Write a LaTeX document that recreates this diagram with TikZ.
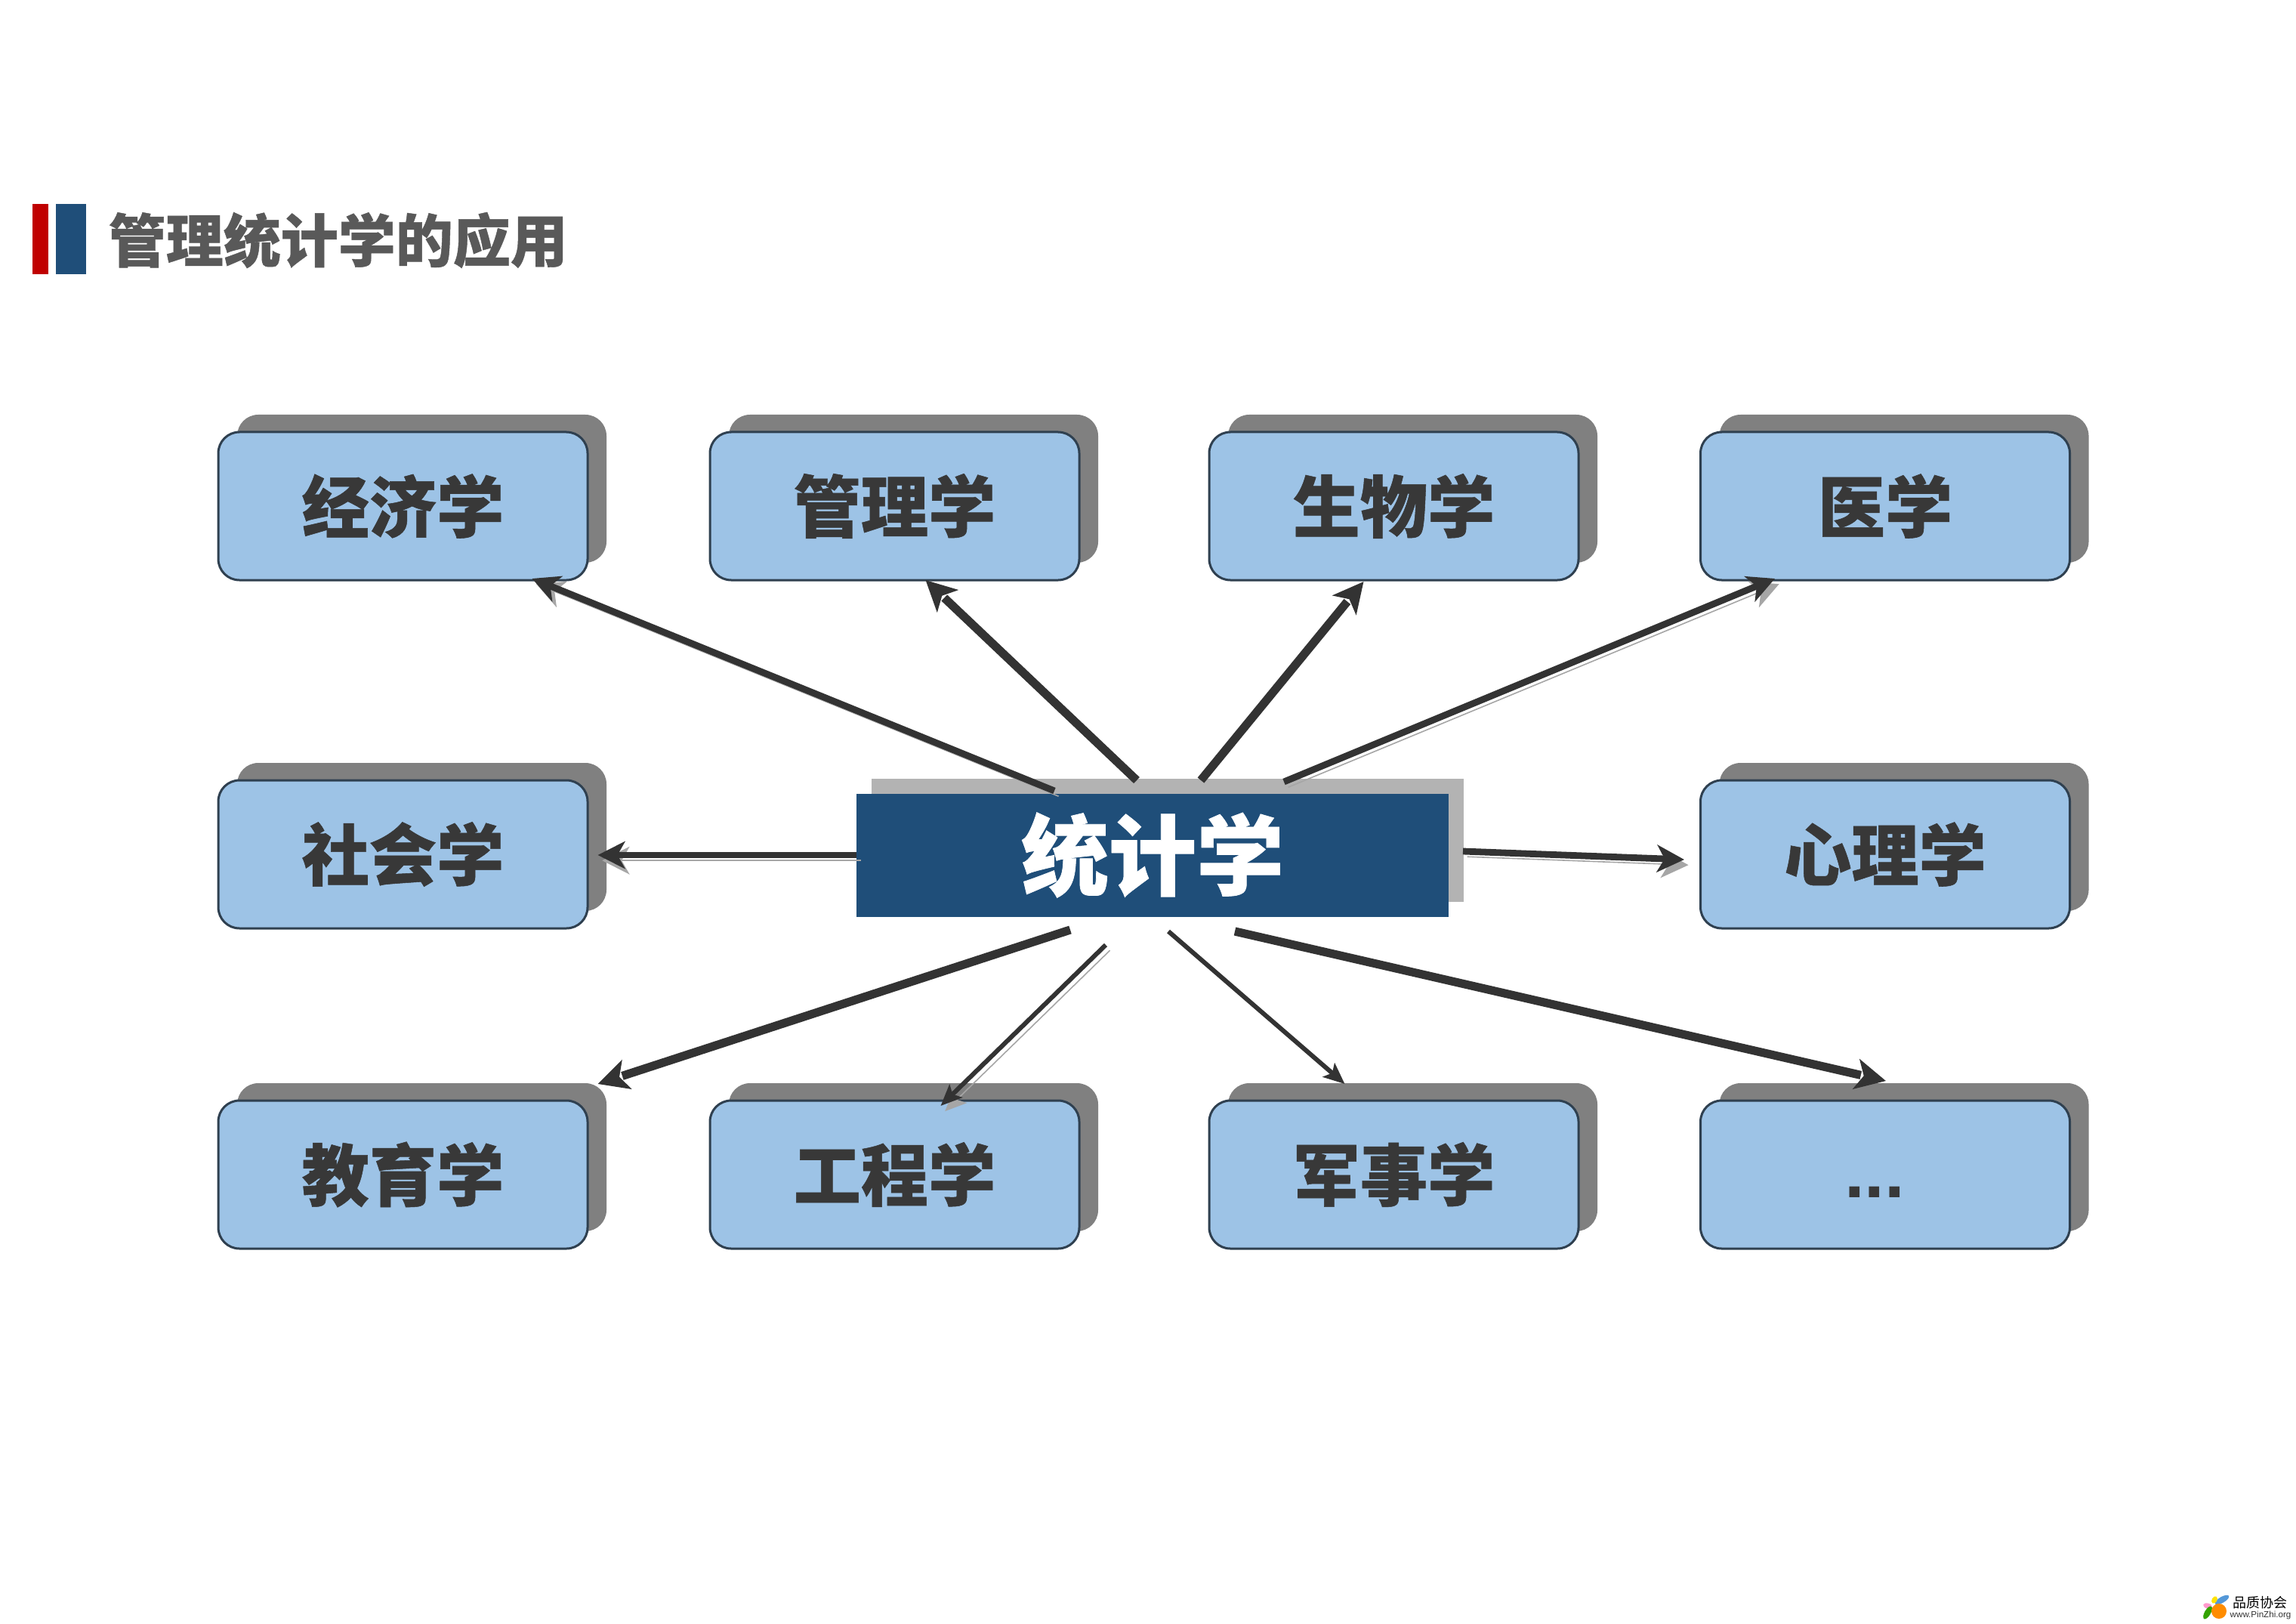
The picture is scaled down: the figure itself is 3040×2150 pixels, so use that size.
\documentclass[tikz,border=0pt]{standalone}
\usepackage{fontspec}
\setmainfont{Liberation Sans}
\newfontfamily\cjk[BoldFeatures={FakeBold=0.6}]{Noto Sans CJK SC}
\usetikzlibrary{arrows.meta,shadows}
\definecolor{boxfill}{HTML}{9DC3E6}
\definecolor{boxline}{HTML}{2F4050}
\definecolor{boxshadow}{HTML}{808080}
\definecolor{hubfill}{HTML}{1F4E79}
\definecolor{hubshadow}{HTML}{B3B3B3}
\definecolor{inktext}{HTML}{383838}
\definecolor{titletext}{HTML}{595959}
\definecolor{barred}{HTML}{C00000}
\definecolor{barblue}{HTML}{1F4E79}
\definecolor{arrowink}{HTML}{333333}
\tikzset{
  field/.style={draw=boxline,line width=.75pt,fill=boxfill,rounded corners=7pt,
    minimum width=122.25pt,minimum height=49pt,inner sep=0pt,
    text=inktext,font=\cjk\bfseries\fontsize{22.3}{24}\selectfont,
    drop shadow={shadow xshift=6.25pt,shadow yshift=5.75pt,fill=boxshadow,opacity=1}},
  hubbox/.style={fill=hubfill,minimum width=196pt,minimum height=40.75pt,inner sep=0pt,
    text=white,font=\cjk\bfseries\fontsize{29}{31}\selectfont,
    drop shadow={shadow xshift=5pt,shadow yshift=5pt,fill=hubshadow,opacity=1}},
  headtip/.style={-{Rectangle[white,length=1pt,width=#1+1pt,sep=-2.5pt]Stealth[length=10pt,width=10pt,inset=2.5pt]}},
  heavyline/.style={draw=arrowink,line width=2.8pt,headtip=2.8pt},
  mediumline/.style={draw=arrowink,line width=2.2pt,-{Stealth[length=9pt,width=9pt,inset=2.5pt]}},
  lightline/.style={draw=arrowink,line width=1.5pt,-{Stealth[length=7pt,width=6pt,inset=1.5pt]}},
  ghost/.style={preaction={draw=gray!70,transform canvas={shift={(1.4pt,-1.8pt)}}}},
}
\begin{document}
\begin{tikzpicture}[x=.25pt,y=-.25pt]
\useasboundingbox (0,0) rectangle (3040,2150);
% title
\fill[barred] (43,270) rectangle (64,363);
\fill[barblue] (74,270) rectangle (114,363);
\node[anchor=west,inner sep=0pt,text=titletext,font=\cjk\bfseries\fontsize{19}{21}\selectfont] (title) at (143,318) {管理统计学的应用};
% nodes
\node[hubbox] (hub) at (1526,1132) {统计学};
\node[field] (econ) at (533.5,670) {经济学};
\node[field] (mgmt) at (1184.5,670) {管理学};
\node[field] (bio) at (1845.5,670) {生物学};
\node[field] (med) at (2496,670) {医学};
\node[field] (soc) at (533.5,1131) {社会学};
\node[field] (psy) at (2496,1131) {心理学};
\node[field] (edu) at (533.5,1555) {教育学};
\node[field] (eng) at (1184.5,1555) {工程学};
\node[field] (mil) at (1845.5,1555) {军事学};
\node[field,font=\bfseries\fontsize{24}{26}\selectfont] (more) at (2496,1555) {\hspace*{-7pt}\raisebox{-15pt}{...}};
% connectors
\draw[mediumline,ghost] ([shift={(-130,-85)}]hub.center) -- ([shift={(171,96)}]econ.center);
\draw[heavyline] ([shift={(-21,-99)}]hub.center) -- ([shift={(41,98)}]mgmt.center);
\draw[heavyline] ([shift={(64,-99)}]hub.center) -- ([shift={(-40,100)}]bio.center);
\draw[mediumline,ghost] ([shift={(174,-97)}]hub.center) -- ([shift={(-146,96)}]med.center);
\draw[mediumline,ghost] ([shift={(-392,0)}]hub.center) -- ([shift={(258,1)}]soc.center);
\draw[mediumline,ghost] ([shift={(411,-5)}]hub.center) -- ([shift={(-266,7)}]psy.center);
\draw[heavyline] ([shift={(-109,99)}]hub.center) -- ([shift={(258,-120)}]edu.center);
\draw[lightline,ghost] ([shift={(-62,119)}]hub.center) -- ([shift={(61,-91)}]eng.center);
\draw[lightline] ([shift={(21,101)}]hub.center) -- ([shift={(-65,-120)}]mil.center);
\draw[heavyline] ([shift={(109,101)}]hub.center) -- ([shift={(1,-124)}]more.center);
% logo
\fill[cyan!60!blue!70,rotate around={30:(2942,2118)}] (2942,2118) ellipse (10.5 and 4);
\fill[yellow!85!orange,rotate around={60:(2932,2118)}] (2932,2118) ellipse (5 and 3.5);
\fill[pink!80!magenta,rotate around={-15:(2923,2126)}] (2923,2126) ellipse (6 and 3.5);
\fill[green!55!black!80!yellow,rotate around={60:(2923,2135)}] (2923,2135) ellipse (9.5 and 4);
\fill[orange!90!yellow] (2938,2133) circle (10);
\node[inner sep=0pt,text=black,font=\cjk\fontsize{4.5}{5}\selectfont] (logocn) at (2992,2122) {品质协会};
\node[inner sep=0pt,text=black!80,font=\fontsize{2.9}{3.2}\selectfont] (logourl) at (2993,2138) {www.PinZhi.org};
\end{tikzpicture}
\end{document}
